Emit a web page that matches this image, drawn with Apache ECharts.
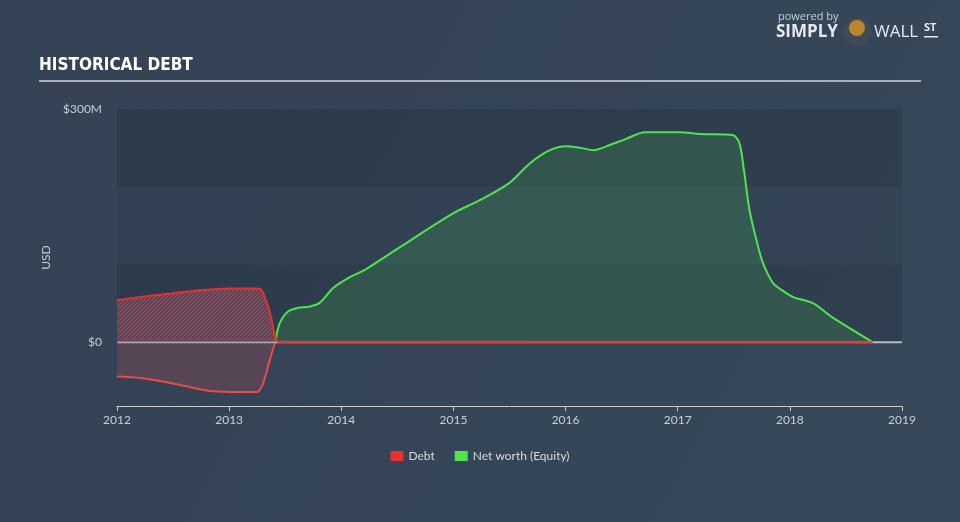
<!DOCTYPE html>
<html>
<head>
<meta charset="utf-8">
<script src="https://cdn.jsdelivr.net/npm/echarts@6/dist/echarts.min.js"></script>
<style>
html,body{margin:0;padding:0;width:960px;height:522px;overflow:hidden;background:#344457;}
#c{width:960px;height:522px;}
</style>
</head>
<body>
<div id="c"></div>
<script>
// ---- data (years as decimal, values in $M) ----
const xTicks = [2012, 2013, 2014, 2015, 2016, 2017, 2018, 2019];
const yTickLabels = [0, 300];
const debtUpper = [
  [2012, 54], [2012.25, 59], [2012.5, 63], [2012.75, 67], [2013, 69], [2013.25, 69],
  [2013.29, 67], [2013.36, 40], [2013.42, 3], [2013.46, 0], [2014, 0], [2015, 0],
  [2016, 0], [2017, 0], [2018, 0], [2018.74, 0]
];
const debtLower = [
  [2012, -44], [2012.21, -46], [2012.5, -53], [2012.8, -62], [2013.1, -64], [2013.25, -64],
  [2013.3, -54], [2013.36, -24], [2013.41, 0]
];
const equity = [
  [2013.41, 0], [2013.45, 24], [2013.52, 39], [2013.61, 44], [2013.72, 46], [2013.81, 51],
  [2013.93, 70], [2014.08, 84], [2014.21, 93], [2014.52, 122], [2015, 166], [2015.24, 183],
  [2015.5, 205], [2015.68, 230], [2015.86, 247], [2016, 252], [2016.13, 250], [2016.25, 247],
  [2016.4, 254], [2016.53, 261], [2016.71, 270], [2017.02, 270], [2017.2, 268], [2017.49, 266.5],
  [2017.55, 256], [2017.59, 222], [2017.64, 170], [2017.71, 127], [2017.76, 102], [2017.85, 76],
  [2017.94, 66], [2018.03, 58], [2018.21, 50], [2018.38, 32], [2018.74, 0]
];
const zeroLine = [[2012, 0], [2019, 0]];

// hatch pattern
const pc = document.createElement('canvas');
pc.width = 4; pc.height = 4;
const g = pc.getContext('2d');
g.fillStyle = 'rgba(150,70,85,0.55)';
g.fillRect(0, 0, 4, 4);
g.strokeStyle = 'rgba(235,60,60,0.85)';
g.lineWidth = 1;
g.beginPath();
g.moveTo(0, 4); g.lineTo(4, 0);
g.moveTo(-1, 1); g.lineTo(1, -1);
g.moveTo(3, 5); g.lineTo(5, 3);
g.stroke();

const chart = echarts.init(document.getElementById('c'), null, {renderer: 'canvas'});
const txt = '#c9cfd6';
const SM = 0.3;
chart.setOption({
  backgroundColor: {
    type: 'linear', x: 0, y: 0, x2: 1, y2: 1,
    colorStops: [{offset: 0, color: '#334254'}, {offset: 1, color: '#37485b'}]
  },
  animation: false,
  graphic: [
    {type: 'text', left: 39, top: 57, style: {text: 'HISTORICAL DEBT', fill: '#ffffff', font: 'bold 17px "Liberation Sans Narrow", "DejaVu Sans Condensed", sans-serif'}},
    {type: 'rect', shape: {x: 39, y: 80, width: 882, height: 2}, style: {fill: '#a9b0b8'}},
    {type: 'text', left: 778, top: 11, style: {text: 'powered by', fill: '#c9cfd6', font: '11px "Open Sans", sans-serif'}},
    {type: 'text', left: 776, top: 24, style: {text: 'SIMPLY', fill: '#e6e9ec', font: 'bold 17px "Open Sans", sans-serif'}},
    {type: 'circle', shape: {cx: 857, cy: 32, r: 14}, style: {fill: '#3f4a55'}},
    {type: 'circle', shape: {cx: 857, cy: 28, r: 8}, style: {fill: '#b9852f'}},
    {type: 'text', left: 874, top: 24, style: {text: 'WALL', fill: '#e6e9ec', font: '17px "Open Sans", sans-serif'}},
    {type: 'text', left: 924, top: 22, style: {text: 'ST', fill: '#e6e9ec', font: 'bold 11px "Open Sans", sans-serif'}},
    {type: 'rect', shape: {x: 924, y: 36, width: 14, height: 1.5}, style: {fill: '#e6e9ec'}}
  ],
  legend: {
    bottom: 55, left: 'center',
    icon: 'rect', itemWidth: 13, itemHeight: 10, itemGap: 20,
    data: ['Debt', 'Net worth (Equity)'],
    textStyle: {color: '#d6dade', fontSize: 12, fontFamily: 'Lato, "Open Sans", sans-serif'}
  },
  grid: {left: 117, right: 58, top: 109, bottom: 116},
  xAxis: {
    type: 'value', min: 2012, max: 2019, interval: 1,
    axisLine: {show: true, onZero: false, lineStyle: {color: '#c3cad2', width: 1}},
    axisTick: {show: true, length: 5, lineStyle: {color: '#c3cad2'}},
    axisLabel: {color: txt, fontSize: 12, fontFamily: 'Lato, "Open Sans", sans-serif', margin: 8,
      formatter: v => String(v), customValues: xTicks},
    splitLine: {show: false}
  },
  yAxis: {
    type: 'value', min: -82, max: 300,
    name: 'USD', nameLocation: 'middle', nameGap: 52, nameRotate: 90,
    nameTextStyle: {color: txt, fontSize: 12, fontFamily: 'Lato, "Open Sans", sans-serif'},
    axisLine: {show: false}, axisTick: {show: false}, splitLine: {show: false},
    axisLabel: {color: txt, fontSize: 12, fontFamily: 'Lato, "Open Sans", sans-serif', margin: 15,
      customValues: yTickLabels, formatter: v => v === 0 ? '$0' : '$' + v + 'M'}
  },
  series: [
    {
      name: 'bands', type: 'line', data: [], silent: true, z: 0,
      markArea: {silent: true, data: [
        [{yAxis: 0, itemStyle: {color: 'rgba(20,30,42,0.2)'}}, {yAxis: 100}],
        [{yAxis: 100, itemStyle: {color: 'rgba(20,30,42,0.07)'}}, {yAxis: 200}],
        [{yAxis: 200, itemStyle: {color: 'rgba(20,30,42,0.2)'}}, {yAxis: 300}]
      ]}
    },
    {
      name: 'Net worth (Equity)', type: 'line', data: equity, smooth: SM,
      showSymbol: false, z: 2, color: '#4ee44e',
      lineStyle: {color: '#4ee44e', width: 2},
      areaStyle: {color: 'rgba(78,228,78,0.21)', origin: 0}
    },
    {
      name: 'Debt', type: 'line', data: debtLower, smooth: SM,
      showSymbol: false, z: 2, color: '#e8302f',
      lineStyle: {color: '#ea4a4a', width: 2},
      areaStyle: {color: 'rgba(200,75,85,0.32)', origin: 0}
    },
    {
      name: 'zero', type: 'line', data: zeroLine, showSymbol: false, silent: true, z: 3,
      lineStyle: {color: '#b4bac2', width: 2}
    },
    {
      name: 'Debt', type: 'line', data: debtUpper, smooth: SM,
      showSymbol: false, z: 4, color: '#e8302f',
      lineStyle: {color: '#e8302f', width: 2},
      areaStyle: {color: {image: pc, repeat: 'repeat'}, origin: 0, opacity: 1}
    }
  ]
});
</script>
</body>
</html>
